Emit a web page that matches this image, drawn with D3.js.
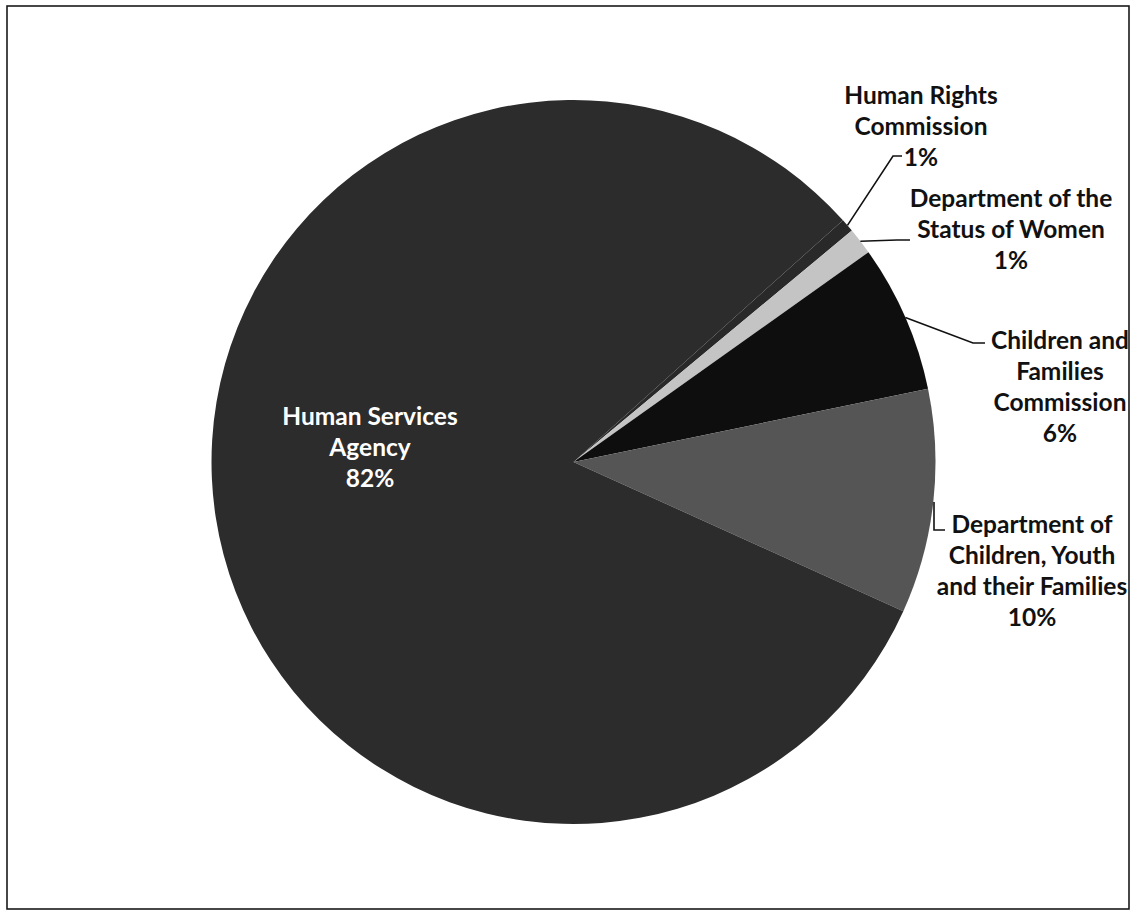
<!DOCTYPE html>
<html>
<head>
<meta charset="utf-8">
<script src="https://cdn.jsdelivr.net/npm/d3@7"></script>
<style>
  html, body { margin: 0; padding: 0; background: #fff; }
  svg { display: block; }
  .lbl { font-family: Lato, "Open Sans", sans-serif; font-weight: 700; font-size: 24.5px; }
</style>
</head>
<body>
<svg id="chart" width="1136" height="911"></svg>
<script>
// ---- data ----
const categories = [
  "Human Rights Commission",
  "Department of the Status of Women",
  "Children and Families Commission",
  "Department of Children, Youth and their Families",
  "Human Services Agency"
];
const shares = [0.6, 1.2, 6.6, 10.0, 81.6];           // percent of total
const percentLabels = ["1%", "1%", "6%", "10%", "82%"];
const labelLines = [
  ["Human Rights", "Commission"],
  ["Department of the", "Status of Women"],
  ["Children and", "Families", "Commission"],
  ["Department of", "Children, Youth", "and their Families"],
  ["Human Services", "Agency"]
];
const fills = ["#292929", "#c4c4c4", "#0e0e0e", "#555555", "#2c2c2c"];

// ---- layout ----
const W = 1136, H = 911;
const cx = 573.5, cy = 462, R = 362;
const startDeg = 48.1;
const lineH = 31;

const svg = d3.select("#chart");

// frame
svg.append("rect")
  .attr("x", 7).attr("y", 6).attr("width", 1122).attr("height", 903)
  .attr("fill", "#fff").attr("stroke", "#1a1a1a").attr("stroke-width", 1.6);

const data = categories.map((c, i) => ({ name: c, value: shares[i], i }));

const pie = d3.pie().value(d => d.value).sort(null)
  .startAngle(startDeg * Math.PI / 180)
  .endAngle(startDeg * Math.PI / 180 + 2 * Math.PI);
const arcs = pie(data);

const arc = d3.arc().innerRadius(0).outerRadius(R);
const edgeArc = d3.arc().innerRadius(R).outerRadius(R);

const g = svg.append("g").attr("transform", `translate(${cx},${cy})`);

g.selectAll("path.slice").data(arcs).enter().append("path")
  .attr("class", "slice")
  .attr("d", arc)
  .attr("fill", d => fills[d.data.i]);

// label anchors (absolute page coords): text centre x, first line centre y
const labelPos = [
  { x: 921, y: 95 },
  { x: 1011, y: 198 },
  { x: 1060, y: 340 },
  { x: 1032, y: 524 },
  { x: 370, y: 416 }
];
// leader line bend points (absolute), null if none
const leaderBends = [
  [[893, 156], [902, 156]],
  [[897, 240], [910, 240]],
  [[973, 343], [985, 343]],
  [[934, 530], [945, 530]],
  null
];

const lines = d3.line();
arcs.forEach((a, k) => {
  const bends = leaderBends[k];
  if (!bends) return;
  let p = edgeArc.centroid(a);
  let start = [p[0] + cx, p[1] + cy];
  let pts;
  if (k === 3) {
    pts = [[bends[0][0], start[1]], bends[0], bends[1]];
  } else {
    pts = [start, bends[0], bends[1]];
  }
  svg.append("path")
    .attr("d", lines(pts))
    .attr("fill", "none")
    .attr("stroke", "#111")
    .attr("stroke-width", 1.6);
});

arcs.forEach((a, k) => {
  const pos = labelPos[k];
  const linesTxt = labelLines[k].concat([percentLabels[k]]);
  const t = svg.append("text")
    .attr("class", "lbl")
    .attr("text-anchor", "middle")
    .attr("fill", k === 4 ? "#ffffff" : "#111111");
  linesTxt.forEach((s, j) => {
    t.append("tspan")
      .attr("x", pos.x)
      .attr("y", pos.y + j * lineH)
      .attr("dy", "0.35em")
      .text(s);
  });
});
</script>
</body>
</html>
